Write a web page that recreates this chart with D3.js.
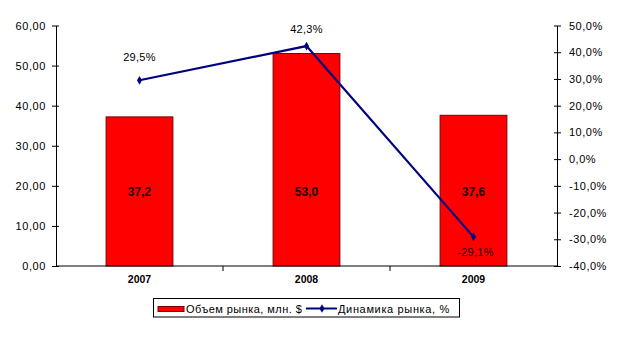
<!DOCTYPE html>
<html>
<head>
<meta charset="utf-8">
<script src="https://cdn.jsdelivr.net/npm/d3@7"></script>
<style>
  body { margin: 0; background: #fff; }
  svg { display: block; font-family: "Liberation Sans", Arial, sans-serif; }
</style>
</head>
<body>
<svg id="chart" width="625" height="338"></svg>
<script>
// Market data by year
const years = ["2007", "2008", "2009"];
const volume = [37.2, 53.0, 37.6];          // market volume, mln $
const growth = [29.5, 42.3, -29.1];          // market dynamics, %
const volumeTicks = [0, 10, 20, 30, 40, 50, 60];
const growthTicks = [-40, -30, -20, -10, 0, 10, 20, 30, 40, 50];
const legendLabels = ["Объем рынка, млн. $", "Динамика рынка, %"];

(function draw() {
const svg = d3.select("#chart");
const plotLeft = 56, plotRight = 557, plotTop = 25.5, plotBottom = 266;

const x = d3.scaleBand().domain(years).range([plotLeft, plotRight]).paddingInner(0.6).paddingOuter(0.3);
const xTicks = d3.scaleBand().domain(years).range([plotLeft, plotRight]);
const yL = d3.scaleLinear().domain([0, 60]).range([plotBottom, plotTop]);
const yR = d3.scaleLinear().domain([-40, 50]).range([plotBottom, plotTop]);

const fmt2 = v => d3.format(".2f")(v).replace(".", ",");
const fmt1 = v => d3.format(".1f")(v).replace(".", ",");
const fmtPct = v => d3.format(".1f")(v).replace(".", ",").replace("−", "-") + "%";

// Bars
svg.append("g").selectAll("rect").data(years).join("rect")
  .attr("x", d => x(d))
  .attr("width", x.bandwidth())
  .attr("y", (d, i) => yL(volume[i]))
  .attr("height", (d, i) => plotBottom - yL(volume[i]))
  .attr("fill", "#ff0000")
  .attr("stroke", "#7a0000")
  .attr("stroke-width", 1);

// Bar value labels
svg.append("g").selectAll("text").data(years).join("text")
  .attr("x", d => x(d) + x.bandwidth() / 2)
  .attr("y", 196)
  .attr("text-anchor", "middle")
  .attr("font-size", 12).attr("font-weight", "bold")
  .attr("fill", "#1a0000")
  .text((d, i) => fmt1(volume[i]));

// Left axis
const axL = svg.append("g").attr("transform", `translate(${plotLeft},0)`)
  .call(d3.axisLeft(yL).tickValues(volumeTicks).tickFormat(fmt2).tickSizeInner(4).tickSizeOuter(0));
axL.selectAll(".tick line").attr("x2", -4).attr("x1", 3);
axL.selectAll("text").attr("font-size", 11).attr("letter-spacing", 0.6)
  .attr("font-family", "Liberation Sans, Arial").attr("fill", "#000").attr("x", -10);

// Right axis
const axR = svg.append("g").attr("transform", `translate(${plotRight},0)`)
  .call(d3.axisRight(yR).tickValues(growthTicks).tickFormat(fmtPct).tickSizeInner(4).tickSizeOuter(0));
axR.selectAll(".tick line").attr("x1", -3).attr("x2", 4);
axR.selectAll("text").attr("font-size", 11).attr("letter-spacing", 0.5)
  .attr("font-family", "Liberation Sans, Arial").attr("fill", "#000").attr("x", 12);

// Bottom axis
const axB = svg.append("g").attr("transform", `translate(0,${plotBottom})`);
axB.append("line").attr("x1", plotLeft).attr("x2", plotRight).attr("stroke", "#000");
axB.selectAll("line.t").data(years.slice(1)).join("line").attr("class", "t")
  .attr("x1", d => xTicks(d)).attr("x2", d => xTicks(d))
  .attr("y1", 0).attr("y2", 5).attr("stroke", "#000");
axB.selectAll("text").data(years).join("text")
  .attr("x", d => xTicks(d) + xTicks.bandwidth() / 2)
  .attr("y", 16.5)
  .attr("text-anchor", "middle")
  .attr("font-size", 10.5).attr("font-weight", "bold")
  .text(d => d);

svg.selectAll(".domain").attr("stroke", "#000");

// Growth line
const cx = d => x(d) + x.bandwidth() / 2;
const line = d3.line().x((d, i) => cx(years[i])).y(d => yR(d));
svg.append("path").datum(growth)
  .attr("d", line)
  .attr("fill", "none")
  .attr("stroke", "#000080")
  .attr("stroke-width", 2.2);

const diamond = d3.symbol().type(d3.symbolDiamond).size(22);
svg.append("g").selectAll("path").data(growth).join("path")
  .attr("transform", (d, i) => `translate(${cx(years[i])},${yR(d)})`)
  .attr("d", diamond)
  .attr("fill", "#000080");

// Growth labels (baseline offsets from each point)
const labelOffsets = [[0, -19], [0, -13.5], [2, 19]];
svg.append("g").selectAll("text").data(growth).join("text")
  .attr("x", (d, i) => cx(years[i]) + labelOffsets[i][0])
  .attr("y", (d, i) => yR(d) + labelOffsets[i][1])
  .attr("text-anchor", "middle")
  .attr("font-size", 11).attr("letter-spacing", 0.3)
  .attr("fill", (d, i) => i === 2 ? "#1a0000" : "#000")
  .text(d => fmtPct(d));

// Legend
const lg = svg.append("g");
lg.append("rect").attr("x", 153.5).attr("y", 298.5).attr("width", 306).attr("height", 18.5)
  .attr("fill", "#fff").attr("stroke", "#000");
lg.append("rect").attr("x", 158).attr("y", 306.5).attr("width", 26).attr("height", 5)
  .attr("fill", "#ff0000").attr("stroke", "#7a0000");
lg.append("text").attr("x", 186).attr("y", 313).attr("font-size", 11).attr("letter-spacing", 0.45)
  .text(legendLabels[0]);
lg.append("line").attr("x1", 306).attr("x2", 337).attr("y1", 308.5).attr("y2", 308.5)
  .attr("stroke", "#000080").attr("stroke-width", 2);
lg.append("path").attr("transform", "translate(322,308.5)").attr("d", diamond).attr("fill", "#000080");
lg.append("text").attr("x", 338).attr("y", 313).attr("font-size", 11).attr("letter-spacing", 0.65)
  .text(legendLabels[1]);
})();
</script>
</body>
</html>
